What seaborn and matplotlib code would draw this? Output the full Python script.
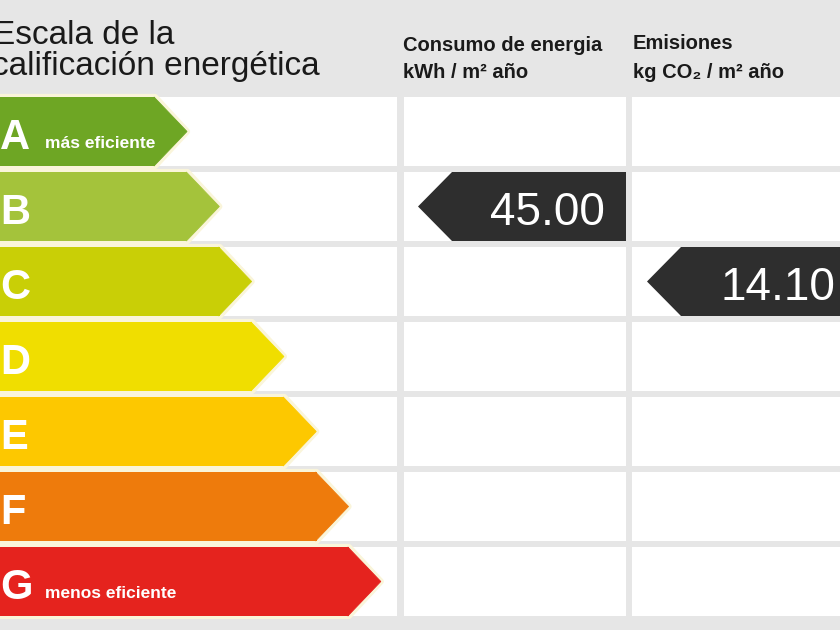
import seaborn as sns
import matplotlib.pyplot as plt
from matplotlib.patches import Polygon, Rectangle

# data
classes = ["A", "B", "C", "D", "E", "F", "G"]
class_colors = ["#6ea624", "#a4c33b", "#c9cf06", "#f0de00", "#fdc800", "#ee7b0c", "#e5231e"]
class_notes = {"A": "más eficiente", "G": "menos eficiente"}
energy_class = "B"
energy_value = 45.00
emission_class = "C"
emission_value = 14.10

sns.set_theme(style="white")
plt.rcParams['font.family'] = ['Liberation Sans', 'DejaVu Sans']

bg = "#e6e6e6"
dark = "#2e2e2e"
halo = "#faf5da"
row_h = 0.92
c0, pitch = 131.5, 75.0  # pixel centre of first row, pixels per row


def py(px):
    return (px - c0) / pitch


fig = plt.figure(figsize=(8.4, 6.3), dpi=100, facecolor=bg)
ax = fig.add_axes([0, 0, 1, 1])

# arrow bodies for the scale
rank = list(range(len(classes)))
body_end = [155 + 32.3 * r for r in rank]
sns.barplot(x=body_end, y=classes, hue=classes, palette=class_colors, orient="h",
            width=row_h, saturation=1, legend=False, linewidth=0, ax=ax, zorder=2)

# white cells behind
cols = [(-10, 397), (404, 626), (632, 870)]
for i in rank:
    for x0, x1 in cols:
        ax.add_patch(Rectangle((x0, i - row_h / 2), x1 - x0, row_h,
                               facecolor="white", edgecolor="none", zorder=0.5))

# arrow tips, pale halo, letters, notes
for i, (cls, col) in enumerate(zip(classes, class_colors)):
    b = body_end[i]
    top, bot = i - row_h / 2, i + row_h / 2
    ax.add_patch(Polygon([(-10, top), (b, top), (b + 32, i), (b, bot), (-10, bot)],
                         closed=True, facecolor=halo, edgecolor=halo, lw=4.5,
                         joinstyle="round", zorder=1.5))
    ax.add_patch(Polygon([(b - 1, top), (b + 32, i), (b - 1, bot)],
                         closed=True, facecolor=col, edgecolor=col, lw=0.6, zorder=2))
    ax.text(0, i + 0.227, cls, color="white", fontsize=30, fontweight="bold",
            va="baseline", ha="left", zorder=3)
    if cls in class_notes:
        ax.text(45, i + 0.22, class_notes[cls], color="white", fontsize=12.5,
                fontweight="bold", va="baseline", ha="left", zorder=3)


def value_arrow(cls, value, tip, right):
    i = classes.index(cls)
    body = tip + 34
    ax.add_patch(Polygon([(tip, i), (body, i - row_h / 2), (right, i - row_h / 2),
                          (right, i + row_h / 2), (body, i + row_h / 2)],
                         closed=True, facecolor=dark, edgecolor="none", zorder=3))
    ax.text(right - 21, i + 0.247, f"{value:.2f}", color="white", fontsize=33,
            va="baseline", ha="right", zorder=4)


value_arrow(energy_class, energy_value, 418, 626)
value_arrow(emission_class, emission_value, 647, 856)

# headers
tc = "#1a1a1a"
ax.text(-7, py(44), "Escala de la", fontsize=24, color=tc, va="baseline")
ax.text(-8, py(75), "calificación energética", fontsize=24, color=tc, va="baseline")
ax.text(403, py(51), "Consumo de energia", fontsize=14.5, fontweight="bold", color=tc, va="baseline")
ax.text(403, py(78), "kWh / m² año", fontsize=14.5, fontweight="bold", color=tc, va="baseline")
ax.text(633, py(49), "Emisiones", fontsize=14.5, fontweight="bold", color=tc, va="baseline")
ax.text(633, py(78), "kg CO₂ / m² año", fontsize=14.5, fontweight="bold", color=tc, va="baseline")

ax.set_xlim(0, 840)
ax.set_ylim(py(630), py(0))
ax.axis("off")

fig.savefig("out.png", dpi=100, facecolor=bg)
